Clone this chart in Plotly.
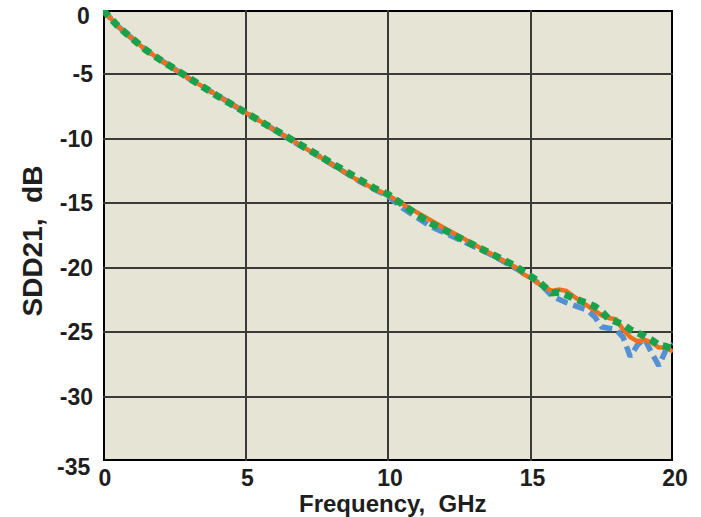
import plotly.graph_objects as go

# Frequency grid (GHz)
freq = [0, 0.25, 0.5, 0.75, 1.0, 1.5, 2.0, 2.5, 3.0, 3.5, 4.0, 4.5, 5.0, 5.5, 6.0,
        6.5, 7.0, 7.5, 8.0, 8.5, 9.0, 9.5, 10.0, 10.5, 11.0, 11.5, 12.0, 12.5, 13.0,
        13.5, 14.0,
        14.25, 14.5, 14.75, 15.0, 15.25, 15.5, 15.75, 16.0, 16.25, 16.5, 16.75, 17.0,
        17.25, 17.5, 17.75, 18.0, 18.25, 18.5, 18.75, 19.0, 19.25, 19.5, 19.75, 20.0]

# SDD21 (dB) for the three measured channels
sdd21_blue = [0, -0.65, -1.2, -1.7, -2.2, -3.1, -3.85, -4.6, -5.3, -5.95, -6.65, -7.3,
              -7.95, -8.6, -9.3, -10.0, -10.65, -11.25, -11.95, -12.65, -13.3, -13.9,
              -14.45, -15.35, -16.05, -16.8, -17.3, -17.8, -18.3, -18.85, -19.45,
              -19.8, -20.1, -20.4, -20.7, -21.1, -21.6, -22.2, -22.5, -22.7, -22.9,
              -23.1, -23.3, -23.8, -24.6, -24.7, -24.8, -25.4, -26.9, -26.0, -25.5,
              -26.6, -27.6, -26.4, -25.9]
sdd21_orange = [0, -0.65, -1.2, -1.7, -2.2, -3.1, -3.85, -4.6, -5.3, -5.95, -6.65, -7.3,
                -7.95, -8.6, -9.3, -9.95, -10.6, -11.25, -11.95, -12.7, -13.3, -13.85,
                -14.35, -15.05, -15.7, -16.4, -16.95, -17.55, -18.15, -18.7, -19.35,
                -19.7, -20.0, -20.5, -20.8, -21.2, -21.5, -21.8, -21.7, -21.8, -22.2,
                -22.6, -23.0, -23.4, -23.7, -23.9, -24.0, -24.8, -25.4, -25.7, -25.6,
                -25.8, -26.2, -26.2, -26.5]
sdd21_green = [0, -0.65, -1.2, -1.7, -2.2, -3.1, -3.85, -4.6, -5.3, -5.95, -6.65, -7.3,
               -7.95, -8.6, -9.3, -10.0, -10.6, -11.2, -11.9, -12.6, -13.2, -13.8,
               -14.3, -15.15, -15.85, -16.55, -17.1, -17.6, -18.1, -18.65, -19.3,
               -19.6, -19.9, -20.3, -20.6, -21.0, -21.5, -21.95, -21.9, -22.1, -22.4,
               -22.6, -22.7, -23.0, -23.4, -24.0, -24.2, -24.4, -24.8, -25.0, -25.3,
               -25.6, -26.0, -26.1, -26.3]

x_ticks = [0, 5, 10, 15, 20]
y_ticks = [-30, -25, -20, -15, -10, -5]
y_edge_labels = [0, -35]

FONT = "Liberation Sans, Arial, sans-serif"
TXT = "#1E1E1E"

fig = go.Figure()
fig.add_trace(go.Scatter(x=freq, y=sdd21_blue, mode="lines",
                         line=dict(color="#5590D0", width=5.5, dash="12px,6px")))
fig.add_trace(go.Scatter(x=freq, y=sdd21_orange, mode="lines",
                         line=dict(color="#F07022", width=4.5)))
fig.add_trace(go.Scatter(x=freq, y=sdd21_green, mode="lines",
                         line=dict(color="#17A24B", width=7, dash="8px,6px")))

# plot frame
fig.add_shape(type="rect", xref="x", yref="y", x0=0, x1=20, y0=-35, y1=0,
              line=dict(color="black", width=4), layer="below")

for v in y_edge_labels:
    fig.add_annotation(x=0, y=v, xref="paper", yref="y", text=str(v),
                       showarrow=False, xanchor="right", yanchor="middle",
                       xshift=-11, yshift=-6,
                       font=dict(family=FONT, size=23, color=TXT, weight="bold"))

fig.add_annotation(x=0.5, y=0, xref="paper", yref="paper", text="Frequency,  GHz",
                   showarrow=False, xanchor="center", yanchor="middle", yshift=-42, xshift=5,
                   font=dict(family=FONT, size=24, color=TXT, weight="bold"))
fig.add_annotation(x=0, y=0.5, xref="paper", yref="paper", text="SDD21,  dB",
                   showarrow=False, xanchor="center", yanchor="middle", textangle=-90,
                   xshift=-71, yshift=-6,
                   font=dict(family=FONT, size=28, color=TXT, weight="bold"))

fig.update_layout(
    width=701, height=517,
    margin=dict(l=103, r=28, t=10, b=56),
    paper_bgcolor="white",
    plot_bgcolor="#E6E4D4",
    showlegend=False,
    xaxis=dict(range=[0, 20], tickvals=x_ticks, ticktext=[str(v) for v in x_ticks],
               showgrid=True, gridcolor="#3A3A38", gridwidth=1.5, zeroline=False,
               showline=False, ticks="", ticklabelstandoff=1, ticklabelshift=2,
               tickfont=dict(family=FONT, size=23, color=TXT, weight="bold")),
    yaxis=dict(range=[-35, 0], tickvals=y_ticks, ticktext=[str(v) for v in y_ticks],
               showgrid=True, gridcolor="#3A3A38", gridwidth=1.5, zeroline=False,
               showline=False, ticks="", ticklabelstandoff=9,
               tickfont=dict(family=FONT, size=23, color=TXT, weight="bold")),
)

fig.write_html("out.html")
